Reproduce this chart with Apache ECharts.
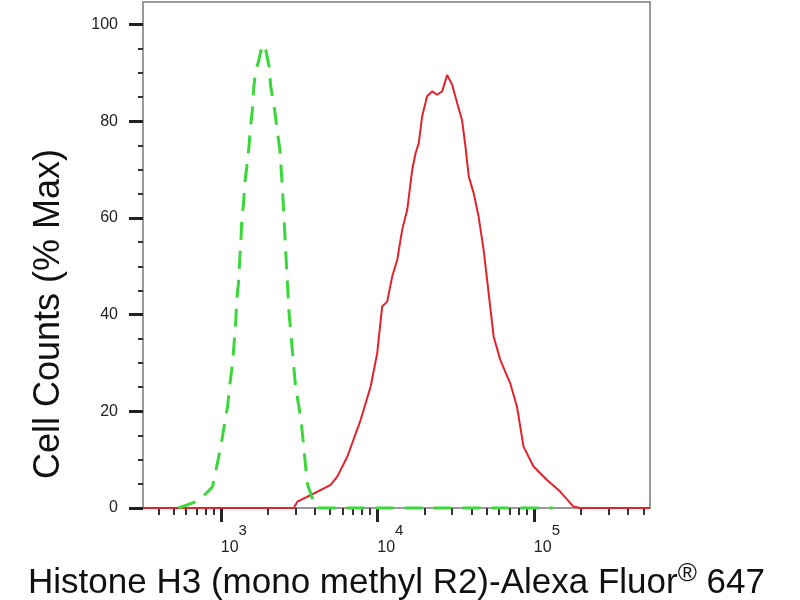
<!DOCTYPE html>
<html>
<head>
<meta charset="utf-8">
<script src="https://cdn.jsdelivr.net/npm/echarts@6/dist/echarts.min.js"></script>
<style>
  html, body { margin: 0; padding: 0; background: #fff; }
  #main { width: 800px; height: 600px; }
</style>
</head>
<body>
<div id="main"></div>
<script>
// x 值为荧光强度的 log10
const xMin = 2.503
const xMax = 5.742
const majorTicks = [3, 4, 5]
const minorTickIntensity = [400, 500, 600, 700, 800, 900,
  2000, 3000, 4000, 5000, 6000, 7000, 8000, 9000,
  20000, 30000, 40000, 50000, 60000, 70000, 80000, 90000,
  200000, 300000, 400000, 500000]

const yMajor = [0, 20, 40, 60, 80, 100]
const yMinor = [5, 10, 15, 25, 30, 35, 45, 50, 55, 65, 70, 75, 85, 90, 95]

// 同型对照（绿色虚线）
const controlX = [2.73, 2.86, 2.947, 3.0, 3.021, 3.043, 3.059, 3.075, 3.085, 3.096,
  3.102, 3.113, 3.121, 3.128, 3.134, 3.145, 3.153, 3.166, 3.18, 3.187,
  3.202, 3.209, 3.223, 3.238, 3.266, 3.287, 3.308, 3.319, 3.344, 3.357,
  3.378, 3.393, 3.408, 3.421, 3.436, 3.457, 3.478, 3.499, 3.517, 3.542,
  3.553, 3.606, 5.12]
const controlY = [0, 1.5, 4.4, 12.7, 16.8, 21, 25.8, 30, 34, 39,
  43, 46.6, 51.3, 55, 59.6, 63, 67, 70.6, 74.7, 78,
  82.4, 86.5, 90.7, 92, 95.9, 94.8, 91.4, 87.2, 82.4, 79,
  74, 66.5, 57.5, 49.3, 40.4, 32.7, 25, 21, 16.8, 8.6,
  5, 0, 0]

// 抗体染色（红色实线）
const sampleX = [2.503, 3.466, 3.489, 3.595, 3.702, 3.744, 3.808, 3.893, 3.957, 3.999,
  4.031, 4.063, 4.095, 4.127, 4.159, 4.191, 4.223, 4.244, 4.265, 4.286,
  4.318, 4.35, 4.382, 4.414, 4.446, 4.478, 4.51, 4.541, 4.563, 4.584,
  4.615, 4.647, 4.679, 4.711, 4.743, 4.786, 4.849, 4.892, 4.934, 4.998,
  5.084, 5.168, 5.253, 5.296, 5.742]
const sampleY = [0, 0, 1.3, 3, 4.8, 6.5, 10.6, 18.2, 25.1, 32,
  41.7, 42.7, 47.9, 51.3, 57.6, 61.7, 70, 73.4, 75.5, 81,
  85.2, 86.2, 85.5, 86.2, 89.6, 87.6, 83.8, 80.3, 74.8, 68.6,
  65.2, 60.3, 53.4, 44.5, 35.5, 30.6, 25.8, 21, 12.7, 8.6,
  5.8, 3.4, 0.3, 0, 0]

const FONT = '"Liberation Sans", Arial, sans-serif'

function pairs(xs, ys) {
  return xs.map((x, i) => [x, ys[i]])
}

let myChart = echarts.init(document.getElementById('main'))

let option = {
  animation: false,
  backgroundColor: '#fff',
  grid: {
    left: 143, right: 150, top: 2, bottom: 92,
    outerBoundsMode: 'none',
    show: true, borderColor: '#9a9a9a', borderWidth: 2
  },
  graphic: [{
    type: 'text',
    x: 49, y: 314,
    rotation: Math.PI / 2,
    style: {
      text: 'Cell Counts (% Max)',
      font: '36px ' + FONT,
      fill: '#111',
      align: 'center',
      verticalAlign: 'middle'
    }
  }],
  xAxis: [{
    type: 'value', min: xMin, max: xMax, position: 'bottom',
    splitLine: { show: false },
    axisLine: { show: true, lineStyle: { color: '#999', width: 2 } },
    axisTick: { show: true, customValues: majorTicks, length: 14, lineStyle: { color: '#222', width: 3 } },
    axisLabel: {
      customValues: majorTicks,
      align: 'left',
      margin: 15,
      formatter: v => '{b|10}{s|' + Math.round(v) + '}',
      rich: {
        b: { fontSize: 16, lineHeight: 33, verticalAlign: 'bottom', fontFamily: FONT, color: '#222' },
        s: { fontSize: 15, lineHeight: 14, verticalAlign: 'top', fontFamily: FONT, color: '#222' }
      }
    },
    name: '{a|Histone H3 (mono methyl R2)-Alexa Fluor}{s|®}{a| 647}',
    nameLocation: 'middle',
    nameGap: 50,
    nameTextStyle: {
      rich: {
        a: { fontSize: 35, lineHeight: 40, verticalAlign: 'bottom', fontFamily: FONT, color: '#111' },
        s: { fontSize: 26, lineHeight: 24, verticalAlign: 'top', fontFamily: FONT, color: '#111' }
      }
    }
  }, {
    type: 'value', min: xMin, max: xMax, position: 'bottom',
    splitLine: { show: false },
    axisLine: { show: false },
    axisLabel: { show: false },
    axisTick: {
      show: true,
      customValues: minorTickIntensity.map(v => Math.log10(v)),
      length: 7,
      lineStyle: { color: '#333', width: 2 }
    }
  }],
  yAxis: [{
    type: 'value', min: 0, max: 104.7, position: 'left',
    splitLine: { show: false },
    axisLine: { show: true, lineStyle: { color: '#999', width: 2 } },
    axisTick: { show: true, customValues: yMajor, length: 14, lineStyle: { color: '#222', width: 3 } },
    axisLabel: { customValues: yMajor, margin: 25, fontSize: 16, color: '#222', fontFamily: FONT }
  }, {
    type: 'value', min: 0, max: 104.7, position: 'left',
    splitLine: { show: false },
    axisLine: { show: false },
    axisLabel: { show: false },
    axisTick: { show: true, customValues: yMinor, length: 5, lineStyle: { color: '#333', width: 2 } }
  }],
  series: [
    {
      name: 'sample',
      type: 'line',
      data: pairs(sampleX, sampleY),
      showSymbol: false,
      clip: false,
      lineStyle: { color: '#e4222a', width: 2 },
      z: 3
    },
    {
      name: 'control',
      type: 'line',
      data: pairs(controlX, controlY),
      showSymbol: false,
      clip: false,
      lineStyle: { color: '#3ad83a', width: 3, type: [18, 11] },
      z: 4
    }
  ]
}

myChart.setOption(option)
</script>
</body>
</html>
